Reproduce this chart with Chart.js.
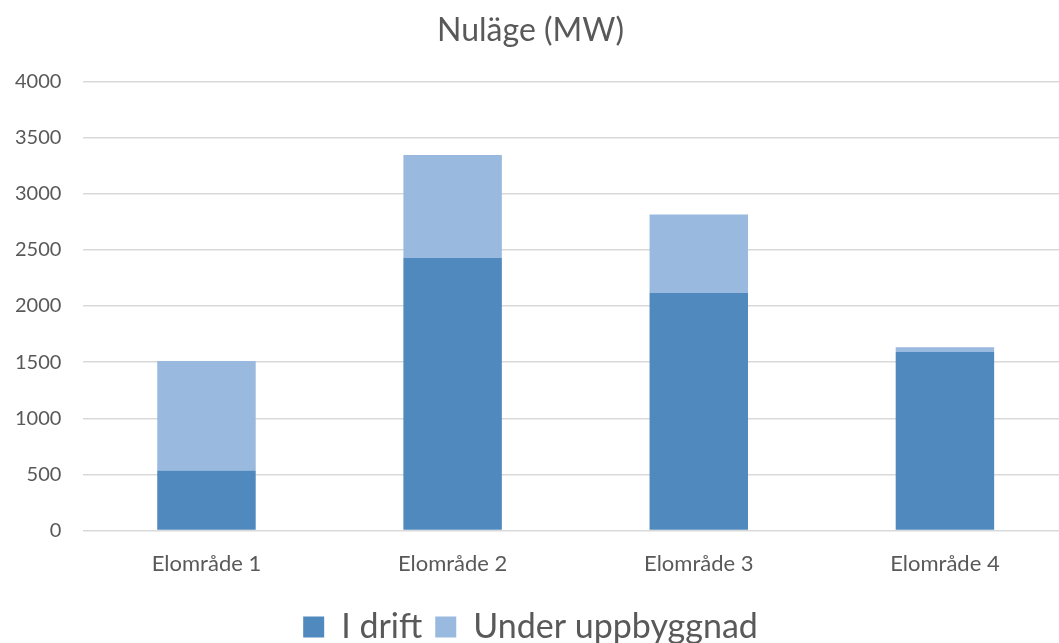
<!DOCTYPE html>
<html>
<head>
<meta charset="utf-8">
<script src="https://cdn.jsdelivr.net/npm/chart.js@4"></script>
<style>
  html, body { margin: 0; padding: 0; background: #fff; overflow: hidden; }
</style>
</head>
<body>
<canvas id="chart" width="1100" height="643"></canvas>
<script>
// Data
const categories = ['Elområde 1', 'Elområde 2', 'Elområde 3', 'Elområde 4'];
const iDrift = [535, 2430, 2115, 1590];
const underUppbyggnad = [975, 915, 700, 43];
const yTicks = [0, 500, 1000, 1500, 2000, 2500, 3000, 3500, 4000];

const textColor = '#595959';
const font = 'Lato, "Open Sans", sans-serif';

const ctx = document.getElementById('chart').getContext('2d');

const chart = new Chart(ctx, {
  type: 'bar',
  data: {
    labels: categories,
    datasets: [
      {
        label: 'I drift',
        data: iDrift,
        backgroundColor: '#4F89BD',
        borderWidth: 0,
        categoryPercentage: 1,
        barPercentage: 0.4
      },
      {
        label: 'Under uppbyggnad',
        data: underUppbyggnad,
        backgroundColor: '#9AB9DF',
        borderWidth: 0,
        categoryPercentage: 1,
        barPercentage: 0.4
      }
    ]
  },
  options: {
    responsive: false,
    animation: false,
    layout: {
      padding: { left: -7, right: 32, top: 0, bottom: -11 }
    },
    scales: {
      x: {
        stacked: true,
        grid: { display: false, drawTicks: false },
        border: { display: false },
        ticks: {
          color: textColor,
          font: { family: font, size: 22 },
          padding: 20
        }
      },
      y: {
        stacked: true,
        min: 0,
        max: 4000,
        afterBuildTicks: (axis) => {
          axis.ticks = yTicks.map(v => ({ value: v }));
        },
        grid: { color: '#d9d9d9', lineWidth: 1.5, drawTicks: false },
        border: { display: false },
        ticks: {
          color: textColor,
          font: { family: font, size: 20 },
          padding: 22,
          callback: (v) => String(v)
        }
      }
    },
    plugins: {
      title: {
        display: true,
        text: 'Nuläge (MW)',
        color: textColor,
        font: { family: font, size: 32, weight: 'normal' },
        padding: { top: 11, bottom: 32 }
      },
      legend: {
        position: 'bottom',
        labels: {
          color: textColor,
          font: { family: font, size: 34, lineHeight: 0.5 },
          boxWidth: 21,
          boxHeight: 21,
          padding: 13
        }
      },
      tooltip: { enabled: false }
    }
  }
});
</script>
</body>
</html>
